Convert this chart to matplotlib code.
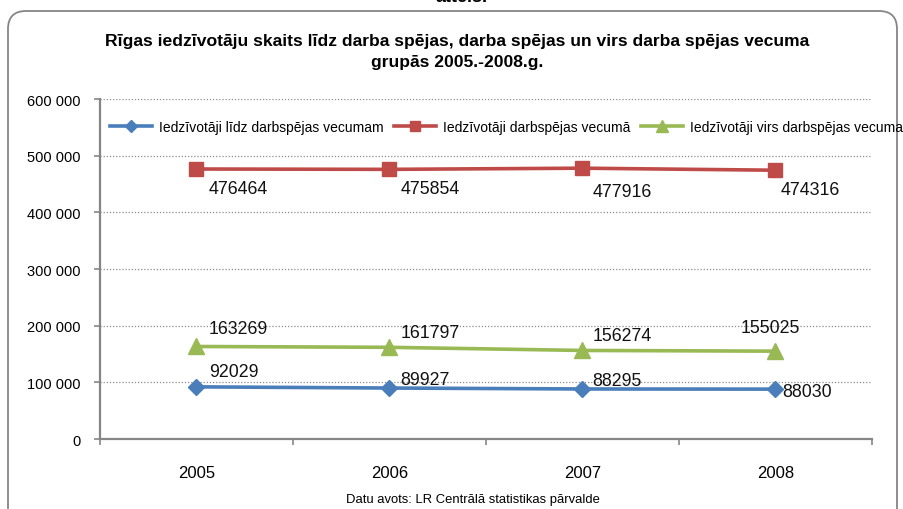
import matplotlib
matplotlib.use("Agg")
import matplotlib.pyplot as plt
from matplotlib.patches import FancyBboxPatch
from matplotlib.transforms import IdentityTransform
from matplotlib.ticker import FuncFormatter, FixedLocator

plt.rcParams['font.family'] = ['Liberation Sans Narrow', 'Liberation Sans', 'DejaVu Sans']

# data
years = ['2005', '2006', '2007', '2008']
below_age = [92029, 89927, 88295, 88030]
working_age = [476464, 475854, 477916, 474316]
above_age = [163269, 161797, 156274, 155025]

series_names = ['Iedzīvotāji līdz darbspējas vecumam',
                'Iedzīvotāji darbspējas vecumā',
                'Iedzīvotāji virs darbspējas vecuma']

title = ('Rīgas iedzīvotāju skaits līdz darba spējas, darba spējas un virs darba spējas vecuma\n'
         'grupās 2005.-2008.g.')
source = 'Datu avots: LR Centrālā statistikas pārvalde'

# label offsets in points (dx, dy) for each point
off_below = [(9, 11), (8, 6), (7, 6), (5, -2)]
off_working = [(9, -14), (8, -14), (7, -17), (4, -14)]
off_above = [(9, 13), (8, 11), (7, 11), (-25, 17)]

fig = plt.figure(figsize=(9.04, 5.1), dpi=100)
ax = fig.add_axes([100 / 904, 1 - 440 / 510, 772 / 904, 340 / 510])

x = list(range(len(years)))
blue, red, green = '#4A7EBB', '#BE4B48', '#98B954'
l1, = ax.plot(x, below_age, color=blue, lw=2.6, marker='D', ms=8.5, label=series_names[0])
l2, = ax.plot(x, working_age, color=red, lw=2.6, marker='s', ms=10, label=series_names[1])
l3, = ax.plot(x, above_age, color=green, lw=2.6, marker='^', ms=11, label=series_names[2])

for vals, offs in [(below_age, off_below), (working_age, off_working), (above_age, off_above)]:
    for i, v in enumerate(vals):
        ax.annotate(str(v), (i, v), xytext=offs[i], textcoords='offset points',
                    ha='left', va='center', fontsize=12.8, color='#111111')

ax.set_xlim(-0.5, 3.5)
ax.set_ylim(0, 600000)
ax.set_yticks(range(0, 600001, 100000))
ax.yaxis.set_major_formatter(FuncFormatter(lambda v, p: f"{int(v):,}".replace(",", " ")))
ax.set_xticks(x)
ax.set_xticklabels(years)
ax.xaxis.set_minor_locator(FixedLocator([-0.5, 0.5, 1.5, 2.5, 3.5]))
ax.tick_params(axis='x', which='major', length=0, labelsize=12, pad=19)
ax.tick_params(axis='x', which='minor', length=4, color='#868686', width=1.2)
ax.tick_params(axis='y', length=4, color='#868686', width=1.2, labelsize=10.5, pad=10)

ax.grid(axis='y', linestyle=(0, (1, 1.5)), color='#8c8c8c', lw=0.9)
ax.set_axisbelow(True)
for s in ['top', 'right']:
    ax.spines[s].set_visible(False)
for s in ['left', 'bottom']:
    ax.spines[s].set_color('#868686')
    ax.spines[s].set_linewidth(1.6)

fig.legend(handles=[l1, l2, l3], loc='center left', bbox_to_anchor=(110 / 904, 1 - 128 / 510),
           ncol=3, frameon=False, fontsize=10, handlelength=3.0, handletextpad=0.5,
           columnspacing=0.8, borderaxespad=0, borderpad=0, markerscale=0.75)

fig.text(457 / 904, 1 - 52 / 510, title, ha='center', va='center', fontsize=12.6,
         fontweight='bold', linespacing=1.5)
fig.text(473 / 904, 1 - 500 / 510, source, ha='center', va='center', fontsize=9.4)
fig.text(462 / 904, 1.004, 'attēls.', ha='center', va='center', fontsize=13, fontweight='bold')

border = FancyBboxPatch((8, -30), 889, 528, boxstyle='round,pad=0,rounding_size=18',
                        transform=IdentityTransform(), fill=False, ec='#868686', lw=1.3)
fig.patches.append(border)

fig.savefig('out.png', dpi=100)
